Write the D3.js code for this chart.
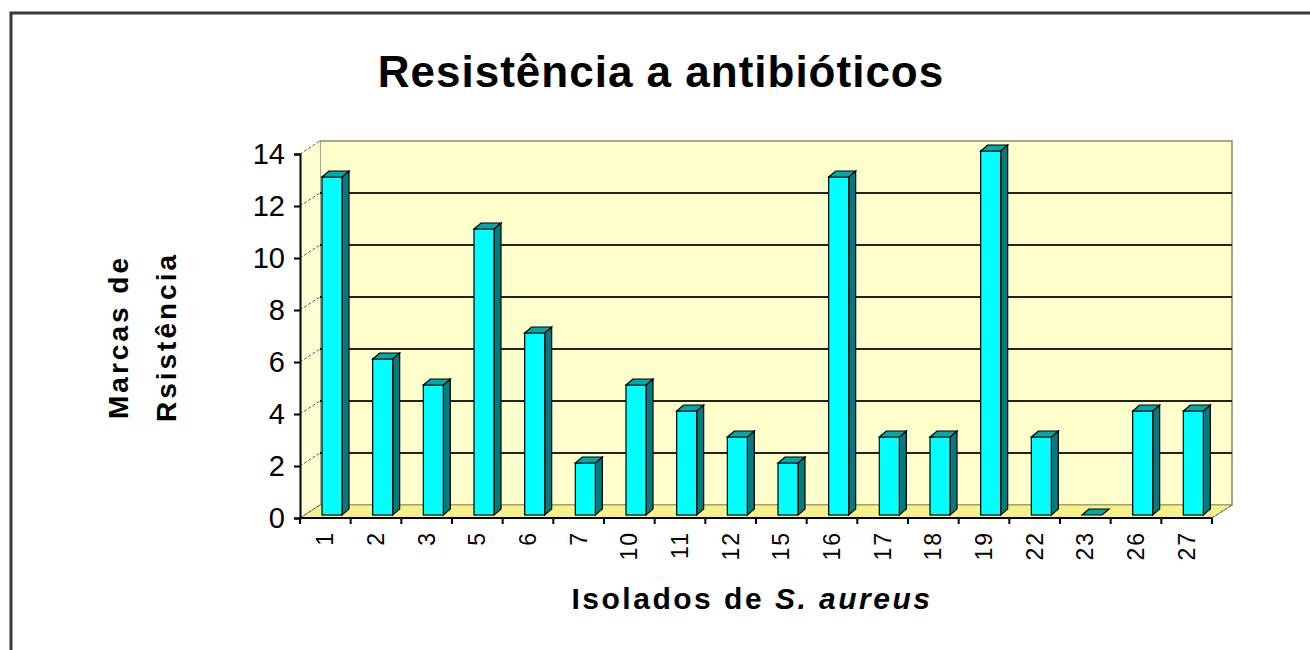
<!DOCTYPE html>
<html>
<head>
<meta charset="utf-8">
<style>
  body { margin: 0; background: #fff; }
  text { font-family: "Liberation Sans", Arial, sans-serif; fill: #000; }
</style>
</head>
<body>
<script src="https://cdnjs.cloudflare.com/ajax/libs/d3/7.8.5/d3.min.js"></script>
<script>
// data
var isolados = ["1", "2", "3", "5", "6", "7", "10", "11", "12", "15", "16", "17", "18", "19", "22", "23", "26", "27"];
var marcas = [13, 6, 5, 11, 7, 2, 5, 4, 3, 2, 13, 3, 3, 14, 3, 0, 4, 4];
var yTicks = [0, 2, 4, 6, 8, 10, 12, 14];

var width = 1310, height = 650;
var dx = 20, dy = -13;      // depth of the 3d box
var bdx = 7, bdy = -6;      // depth of each bar

var svg = d3.select("body").append("svg")
    .attr("width", width)
    .attr("height", height);

// outer frame (only left and top show)
svg.append("path")
    .attr("d", "M11,650 L11,13 L1310,13")
    .attr("fill", "none")
    .attr("stroke", "#3a3a3a")
    .attr("stroke-width", 3);

var x = d3.scaleBand().domain(isolados).range([300, 1212]);
var y = d3.scaleLinear().domain([0, 14]).range([518, 154]);

var x0 = x.range()[0], x1 = x.range()[1];
var yb = y(0), yt = y(14);

// back wall
svg.append("rect")
    .attr("x", x0 + dx).attr("y", yt + dy)
    .attr("width", x1 - x0).attr("height", yb - yt)
    .attr("fill", "#ffffcc")
    .attr("stroke", "#8a8a70").attr("stroke-width", 1.5);

// side wall
svg.append("path")
    .attr("d", "M" + x0 + "," + yb + " L" + x0 + "," + yt + " L" + (x0 + dx) + "," + (yt + dy) +
        " L" + (x0 + dx) + "," + (yb + dy) + "Z")
    .attr("fill", "#ffffd4");

// floor
svg.append("path")
    .attr("d", "M" + x0 + "," + yb + " L" + (x0 + dx) + "," + (yb + dy) + " L" + (x1 + dx) + "," + (yb + dy) +
        " L" + x1 + "," + yb + "Z")
    .attr("fill", "#f8f088")
    .attr("stroke", "#a09a60").attr("stroke-width", 1);

// gridlines on back wall plus diagonals on side wall
svg.append("g").selectAll("line.grid")
    .data(yTicks.filter(function(d) { return d > 0 && d < 14; }))
    .enter().append("line")
    .attr("x1", x0 + dx).attr("x2", x1 + dx)
    .attr("y1", function(d) { return y(d) + dy; })
    .attr("y2", function(d) { return y(d) + dy; })
    .attr("stroke", "#222").attr("stroke-width", 2);

svg.append("g").selectAll("line")
    .data(yTicks)
    .enter().append("line")
    .attr("x1", x0).attr("x2", x0 + dx)
    .attr("y1", function(d) { return y(d); })
    .attr("y2", function(d) { return y(d) + dy; })
    .attr("stroke", "#555").attr("stroke-width", 1)
    .attr("stroke-dasharray", "3,2");

// right diagonal of floor
svg.append("line")
    .attr("x1", x1).attr("y1", yb).attr("x2", x1 + dx).attr("y2", yb + dy)
    .attr("stroke", "#555").attr("stroke-dasharray", "3,2");

// bars
var bars = svg.append("g").selectAll("g")
    .data(isolados.map(function(c, i) { return { c: c, v: marcas[i] }; }))
    .enter().append("g");

var off = 22, bw = 20, lift = 3;

bars.each(function(d) {
    var g = d3.select(this);
    var bx0 = x(d.c) + off, bx1 = bx0 + bw;
    var top = y(d.v) - lift, bot = yb - lift;
    if (d.v > 0) {
        // side
        g.append("path")
            .attr("d", "M" + bx1 + "," + bot + " L" + bx1 + "," + top + " L" + (bx1 + bdx) + "," + (top + bdy) +
                " L" + (bx1 + bdx) + "," + (bot + bdy) + "Z")
            .attr("fill", "#007c80").attr("stroke", "#000").attr("stroke-width", 1.2);
        // front
        g.append("rect")
            .attr("x", bx0).attr("y", top)
            .attr("width", bw).attr("height", bot - top)
            .attr("fill", "#00ffff").attr("stroke", "#000").attr("stroke-width", 1.2);
    }
    // top
    g.append("path")
        .attr("d", "M" + bx0 + "," + top + " L" + (bx0 + bdx) + "," + (top + bdy) + " L" + (bx1 + bdx) + "," + (top + bdy) +
            " L" + bx1 + "," + top + "Z")
        .attr("fill", "#00a8ac").attr("stroke", "#000").attr("stroke-width", 1.2);
});

// y axis
var yAxis = d3.axisLeft(y).tickValues(yTicks).tickSize(6).tickPadding(9);
var gy = svg.append("g").attr("transform", "translate(" + x0 + ",0)").call(yAxis);
gy.select(".domain").attr("stroke", "#000").attr("stroke-width", 2);
gy.selectAll(".tick line").attr("stroke", "#000").attr("stroke-width", 2);
gy.selectAll(".tick text")
    .style("font-size", "29px")
    .attr("fill", "#222");

// x axis: line plus boundary ticks
svg.append("line")
    .attr("x1", x0).attr("x2", x1).attr("y1", yb).attr("y2", yb)
    .attr("stroke", "#000").attr("stroke-width", 2);
svg.append("g").selectAll("line")
    .data(isolados.concat(["end"]))
    .enter().append("line")
    .attr("x1", function(d, i) { return x0 + i * x.bandwidth(); })
    .attr("x2", function(d, i) { return x0 + i * x.bandwidth(); })
    .attr("y1", yb).attr("y2", yb + 6)
    .attr("stroke", "#000").attr("stroke-width", 2);

svg.append("g").selectAll("text")
    .data(isolados)
    .enter().append("text")
    .attr("transform", function(d) {
        return "translate(" + (x(d) + x.bandwidth() / 2 + 8) + "," + (yb + 13) + ") rotate(-90)";
    })
    .attr("text-anchor", "end")
    .style("font-size", "23px")
    .style("letter-spacing", "2px")
    .attr("fill", "#222")
    .text(function(d) { return d; });

// titles
svg.append("text")
    .attr("x", 661).attr("y", 87)
    .attr("text-anchor", "middle")
    .style("font-size", "44px").style("font-weight", "bold")
    .style("letter-spacing", "1px")
    .text("Resistência a antibióticos");

var xt = svg.append("text")
    .attr("x", 752).attr("y", 609)
    .attr("text-anchor", "middle")
    .style("font-size", "30px").style("font-weight", "bold")
    .style("letter-spacing", "2.5px");
xt.append("tspan").text("Isolados de ");
xt.append("tspan").style("font-style", "italic").text("S. aureus");

var ytl = svg.append("text")
    .attr("transform", "translate(0,337) rotate(-90)")
    .attr("text-anchor", "middle")
    .style("font-size", "28px").style("font-weight", "bold")
    .style("letter-spacing", "3px");
ytl.append("tspan").attr("x", 0).attr("y", 128).text("Marcas de");
ytl.append("tspan").attr("x", 0).attr("y", 176).text("Rsistência");
</script>
</body>
</html>
